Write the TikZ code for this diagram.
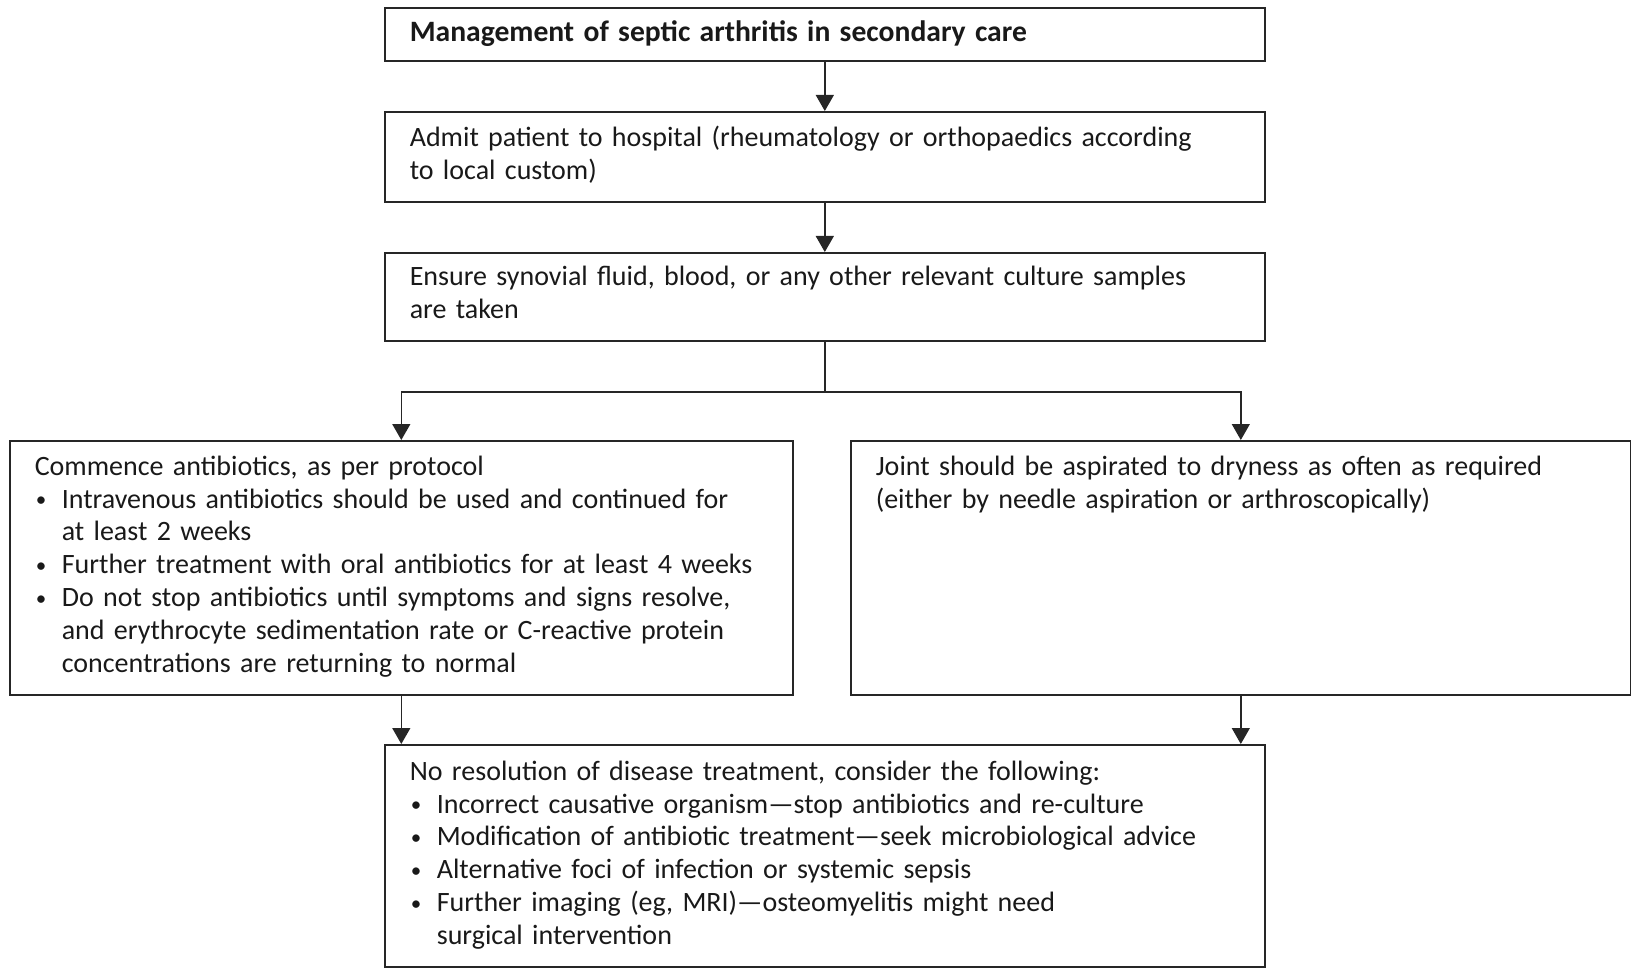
\documentclass[tikz,border=0pt]{standalone}
\usepackage{fontspec}
\setmainfont{Carlito}
\usetikzlibrary{arrows.meta}
\newcommand{\bul}{\makebox[13.5pt][l]{\hspace{0.5pt}\raisebox{0.6pt}{\scalebox{0.75}{\textbullet}}}}
\newcommand{\ind}{\hspace*{13.5pt}}

\begin{document}
\begin{tikzpicture}[x=0.5pt, y=-0.5pt,
  box/.style={draw=black!85, line width=0.8pt, anchor=north west, align=left,
    inner xsep=12.5pt, inner ysep=0pt, text=black!90,
    font=\fontsize{14pt}{16.4pt}\selectfont},
  arr/.style={draw=black!85, line width=0.7pt, -{Triangle[length=8pt,width=9pt]}}]
  \useasboundingbox (0,0) rectangle (1631,968);

  % main column
  \node[box, text width=415pt, text height=17pt, text depth=9.5pt] (title) at (384,7)
    {\fontsize{14.8pt}{16.4pt}\selectfont\textbf{Management of septic arthritis in secondary care}};
  \node[box, text width=415pt, text height=17.5pt, text depth=27.5pt] (admit) at (384,111)
    {Admit patient to hospital (rheumatology or orthopaedics according\\to local custom)};
  \node[box, text width=415pt, text height=16.5pt, text depth=27.5pt] (ensure) at (384,252)
    {Ensure synovial fluid, blood, or any other relevant culture samples\\are taken};

  % two branches
  \node[box, text width=366.5pt, text height=17.2pt, text depth=109.8pt] (abx) at (9,440)
    {Commence antibiotics, as per protocol\\
     \bul Intravenous antibiotics should be used and continued for\\
     \ind at least 2 weeks\\
     \bul Further treatment with oral antibiotics for at least 4 weeks\\
     \bul Do not stop antibiotics until symptoms and signs resolve,\\
     \ind and erythrocyte sedimentation rate or C-reactive protein\\
     \ind concentrations are returning to normal};
  \node[box, text width=365pt, text height=17.2pt, text depth=109.8pt] (asp) at (850,440)
    {Joint should be aspirated to dryness as often as required\\
     (either by needle aspiration or arthroscopically)};

  % no resolution
  \node[box, text width=415pt, text height=17.7pt, text depth=93.3pt] (noresol) at (384,744)
    {No resolution of disease treatment, consider the following:\\
     \bul Incorrect causative organism---stop antibiotics and re-culture\\
     \bul Modification of antibiotic treatment---seek microbiological advice\\
     \bul Alternative foci of infection or systemic sepsis\\
     \bul Further imaging (eg, MRI)---osteomyelitis might need\\
     \ind surgical intervention};

  % connectors
  \draw[arr] (title.south) -- (admit.north);
  \draw[arr] (admit.south) -- (ensure.north);
  \coordinate (forky) at (0,392);
  \coordinate (fork) at (ensure.south |- forky);
  \draw[draw=black!85, line width=0.7pt] (ensure.south) -- (fork);
  \draw[arr] (fork) -| (abx.north);
  \draw[arr] (fork) -| (asp.north);
  \draw[arr] (abx.south) -- (abx.south |- noresol.north);
  \draw[arr] (asp.south) -- (asp.south |- noresol.north);
\end{tikzpicture}
\end{document}
